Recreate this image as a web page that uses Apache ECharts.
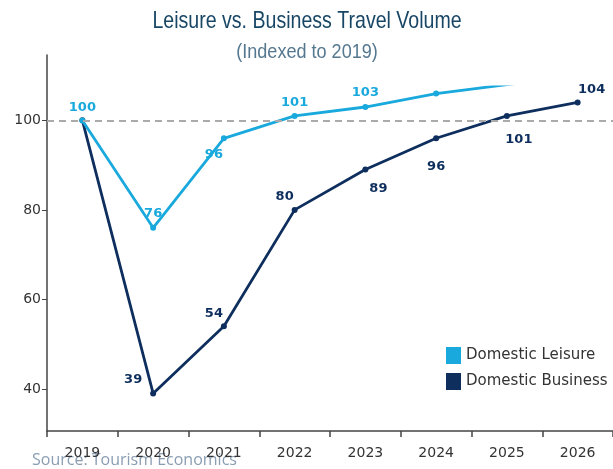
<!DOCTYPE html>
<html><head><meta charset="utf-8">
<script src="https://cdn.jsdelivr.net/npm/echarts@6/dist/echarts.min.js"></script>
<style>html,body{margin:0;padding:0;background:#fff;}#c{width:613px;height:469px;}</style>
</head><body><div id="c"></div>
<script>
const years = ['2019','2020','2021','2022','2023','2024','2025','2026'];
const leisure = [100, 76, 96, 101, 103, 106, 108, 110];
const business = [100, 39, 54, 80, 89, 96, 101, 104];
const yTicks = [40, 60, 80, 100];
const leisureLabelShown = [true, true, true, true, true, false, false, false];
const businessLabelShown = [false, true, true, true, true, true, true, true];
const titleText = 'Leisure vs. Business Travel Volume';
const subtitleText = '(Indexed to 2019)';
const sourceText = 'Source: Tourism Economics';

// label offsets (style only)
const leisureOff = [[0,-13],[0,-14],[-10,16],[0,-13],[0,-14],[0,0],[0,0],[0,0]];
const businessOff = [[0,0],[-20,-14],[-10,-13],[-10,-13],[13,19],[0,28],[12,24],[14,-13]];

const cL = '#19a9dc', cB = '#0e2f5e';
function mk(vals, shown, off, color){
  return vals.map((v,i)=>({value:v, label:{show:shown[i], position:'inside', offset:off[i],
    color:color, fontWeight:'bold', fontSize:13, fontFamily:'DejaVu Sans'}}));
}
const chart = echarts.init(document.getElementById('c'), null, {renderer:'canvas'});
const gridCommon = {left:47, width:576, bottom:38, containLabel:false};
chart.setOption({
  animation:false,
  graphic:[
    {type:'text', x:307, y:21, scaleX:0.815, style:{text:titleText, font:'24px "Liberation Sans", Arial, sans-serif',
      fill:'#184665', textAlign:'center', textVerticalAlign:'middle'}},
    {type:'text', x:307, y:52, scaleX:0.86, style:{text:subtitleText, font:'21px "Liberation Sans", Arial, sans-serif',
      fill:'#55788f', textAlign:'center', textVerticalAlign:'middle'}},
    {type:'text', x:32, y:460, style:{text:sourceText, font:'16px "Open Sans", sans-serif',
      fill:'#8a9db3', textAlign:'left', textVerticalAlign:'middle'}}
  ],
  legend:{orient:'vertical', left:441, top:342, icon:'rect', itemWidth:15, itemHeight:17, itemGap:9,
    textStyle:{fontFamily:'DejaVu Sans', fontSize:15, color:'#333'},
    data:['Domestic Leisure','Domestic Business']},
  grid:[Object.assign({top:55}, gridCommon), Object.assign({top:87}, gridCommon)],
  xAxis:[
    {type:'category', data:years, gridIndex:0, boundaryGap:true,
     axisLine:{lineStyle:{color:'#444', width:1.5}},
     axisTick:{show:true, length:6, lineStyle:{color:'#444', width:1.5}},
     axisLabel:{fontFamily:'DejaVu Sans', fontSize:14, color:'#333', margin:15}},
    {type:'category', data:years, gridIndex:1, boundaryGap:true, show:false}
  ],
  yAxis:[
    {type:'value', gridIndex:0, min:30.6, max:114.6, splitLine:{show:false},
     axisLine:{show:true, lineStyle:{color:'#444', width:1.5}},
     axisTick:{show:true, length:5, customValues:yTicks, lineStyle:{color:'#444'}},
     axisLabel:{customValues:yTicks, fontFamily:'DejaVu Sans', fontSize:14, color:'#333', margin:6}},
    {type:'value', gridIndex:1, min:30.6, max:107.47, show:false, splitLine:{show:false}}
  ],
  series:[
    {name:'Domestic Business', type:'line', xAxisIndex:0, yAxisIndex:0,
     data:mk(business, businessLabelShown, businessOff, cB),
     lineStyle:{color:cB, width:2.8}, itemStyle:{color:cB}, symbol:'circle', symbolSize:6, z:3,
     markLine:{silent:true, symbol:['none','none'], label:{show:false},
       lineStyle:{color:'#aaa', type:[7,5], width:2}, data:[{yAxis:100}]}},
    {name:'Domestic Leisure', type:'line', xAxisIndex:1, yAxisIndex:1, clip:true,
     data:mk(leisure, leisureLabelShown, leisureOff, cL),
     lineStyle:{color:cL, width:2.8}, itemStyle:{color:cL}, symbol:'circle', symbolSize:6, z:4}
  ]
});
</script></body></html>
